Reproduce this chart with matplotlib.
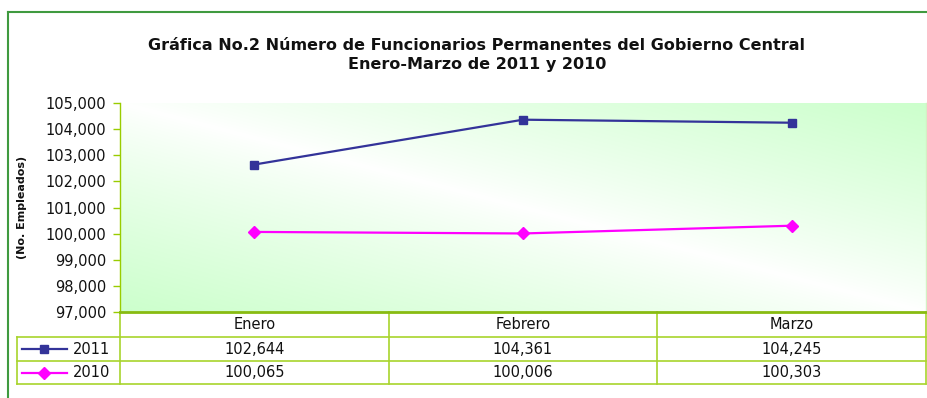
import numpy as np
import matplotlib
matplotlib.use("Agg")
import matplotlib.pyplot as plt
from matplotlib.lines import Line2D
from matplotlib.transforms import blended_transform_factory

# data
months = ["Enero", "Febrero", "Marzo"]
series_names = ["2011", "2010"]
values_2011 = [102644, 104361, 104245]
values_2010 = [100065, 100006, 100303]
y_ticks = list(range(97000, 105001, 1000))

title = ("Gráfica No.2 Número de Funcionarios Permanentes del Gobierno Central\n"
         "Enero-Marzo de 2011 y 2010")

plt.rcParams["font.family"] = ["DejaVu Sans"]

W, H = 928, 398
fig = plt.figure(figsize=(W / 100, H / 100), dpi=100)


def fx(x):
    return x / W


def fy(y):
    return 1 - y / H


# plot area in pixels
left, top, right, bottom = 120, 103, 926, 312
ax = fig.add_axes([fx(left), fy(bottom), (right - left) / W, (bottom - top) / H])

x = np.arange(len(months))
ax.set_xlim(-0.5, len(months) - 0.5)
ax.set_ylim(y_ticks[0], y_ticks[-1])

# diagonal gradient fill: green corners, white band through the middle
n = 256
g = np.linspace(0, 1, n)
uu, vv = np.meshgrid(g, g)
t = np.abs(uu + vv - 1)[..., None] ** 0.85
white = np.array([1.0, 1.0, 1.0])
green = np.array([0.80, 1.0, 0.80])
img = white * (1 - t) + green * t
ax.imshow(img, origin="lower", aspect="auto", zorder=0,
          extent=(-0.5, len(months) - 0.5, y_ticks[0], y_ticks[-1]))

colors = {"2011": "#333399", "2010": "#ff00ff"}
markers = {"2011": "s", "2010": "D"}
msizes = {"2011": 6.2, "2010": 5.8}
series = {"2011": values_2011, "2010": values_2010}

for name in series_names:
    ax.plot(x, series[name], color=colors[name], lw=1.6, marker=markers[name],
            ms=msizes[name], mec=colors[name], zorder=3)

ax.set_yticks(y_ticks)
ax.set_yticklabels([f"{v:,}" for v in y_ticks])
ax.set_xticks([])
ax.tick_params(axis="y", direction="out", length=5, width=1, color="#99cc00",
               pad=5, labelsize=10.5, labelcolor="#111111")
ax.spines["top"].set_visible(False)
ax.spines["left"].set_color("#99cc00")
ax.spines["left"].set_linewidth(1)
ax.spines["bottom"].set_color("#88bb11")
ax.spines["bottom"].set_linewidth(2)
ax.spines["right"].set_color("#d4f0c4")
ax.spines["right"].set_linewidth(1)

# data table under the plot
tr = blended_transform_factory(ax.transData, ax.transAxes)


def ay(yp):
    return (bottom - yp) / (bottom - top)


def axx(xp):
    return (xp - left) / (right - left)


rows = [312, 337, 361, 384]
line_kw = dict(color="#a8d42c", lw=1.2, clip_on=False)
for yp in rows[1:]:
    ax.plot([axx(17), 1], [ay(yp), ay(yp)], transform=ax.transAxes, **line_kw)
for xb in np.arange(len(months) + 1) - 0.5:
    ax.plot([xb, xb], [ay(rows[0]), ay(rows[-1])], transform=tr, **line_kw)
ax.plot([axx(17), axx(17)], [ay(rows[1]), ay(rows[-1])],
        transform=ax.transAxes, **line_kw)

row_mid = [(rows[i] + rows[i + 1]) / 2 for i in range(3)]
for i, m in enumerate(months):
    ax.text(x[i], ay(row_mid[0]), m, transform=tr, ha="center", va="center",
            fontsize=10.5, color="#111111")
for r, name in enumerate(series_names):
    ym = ay(row_mid[r + 1])
    for i, v in enumerate(series[name]):
        ax.text(x[i], ym, f"{v:,}", transform=tr, ha="center", va="center",
                fontsize=10.5, color="#111111")
    # legend key
    ax.plot([axx(22), axx(67)], [ym, ym], transform=ax.transAxes,
            color=colors[name], lw=1.6, clip_on=False)
    ax.plot([axx(44)], [ym], transform=ax.transAxes, marker=markers[name],
            ms=msizes[name], color=colors[name], clip_on=False)
    ax.text(axx(73), ym, name, transform=ax.transAxes, ha="left", va="center",
            fontsize=10.5, color="#111111")

# titles
fig.text(fx(477), fy(55), title, ha="center", va="center", fontsize=11.5,
         fontweight="bold", linespacing=1.25, color="#111111")
fig.text(fx(22), fy(207), "(No. Empleados)", rotation=90, ha="center",
         va="center", fontsize=8, fontweight="bold", color="#111111")

# outer chart frame
frame_kw = dict(transform=fig.transFigure, color="#3f9a3f", lw=1.5)
fig.add_artist(Line2D([fx(8.5), fx(8.5)], [0, fy(11.5)], **frame_kw))
fig.add_artist(Line2D([fx(8.5), 1], [fy(11.5), fy(11.5)], **frame_kw))

fig.savefig("out.png", dpi=100)
